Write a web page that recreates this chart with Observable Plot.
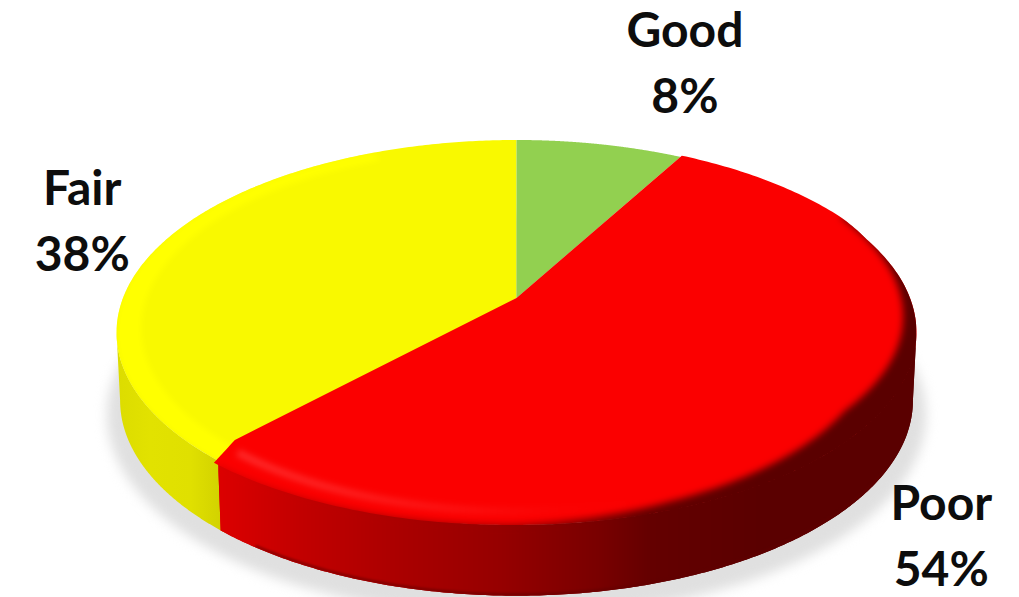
<!DOCTYPE html>
<html>
<head>
<meta charset="utf-8">
<style>
  html, body { margin: 0; padding: 0; background: #fff; }
  svg { display: block; }
  .on-disc { clip-path: url(#discClip); }
  .on-poor { clip-path: url(#poorClip); }
</style>
<script src="https://cdn.jsdelivr.net/npm/d3@7"></script>
<script src="https://cdn.jsdelivr.net/npm/@observablehq/plot@0.6"></script>
</head>
<body>
<div id="chart"></div>
<script>
// Share of ratings, clockwise from twelve o'clock
const categories = ["Good", "Poor", "Fair"];
const shares = [8, 54, 38];
const topColors = ["#92d050", "#fb0000", "#f9f900"];

// Perspective of the disc: its top face and the bottom face below it
const tilt = 0.179;
const centerX = 516;
const topFace = {k: 393.5, m: 186.3, y0: 297.5};
const bottomFace = {k: 390, m: 189, y0: 365};

// Label placement relative to the rim point at each slice's middle
const labelOffsets = {
  Good: [85, -113],
  Poor: [69, 84],
  Fair: [-91, -44]
};
const labelLeading = 66;

const project = (face, r, deg) => {
  const a = deg * Math.PI / 180;
  const u = r * Math.sin(a), v = r * Math.cos(a), w = 1 + tilt * v;
  return {x: centerX + face.k * u / w, y: face.y0 - face.m * v / w};
};
const sweep = (from, to) => d3.range(0, 241).map(i => from + (to - from) * i / 240);
const arc = (face, r, from, to) => sweep(from, to).map(d => project(face, typeof r === "function" ? r(d) : r, d));

// Slice boundaries in degrees, taken from the shares
let total = 0;
const slices = categories.map((name, i) => {
  const start = total * 3.6;
  total += shares[i];
  return {name, start, end: total * 3.6, mid: start + (total * 3.6 - start) / 2};
});
const [good, poor, fair] = slices;

// Angles at which the projected rim reaches its widest, right and left:
// the wall's silhouette runs straight down from these points
const widestRight = Math.acos(-tilt) * 180 / Math.PI;
const widestLeft = 360 - widestRight;

// The bevel pulls the poor slice's front corner in a little
const cornerInset = 2.2;
const poorRimEnd = poor.end - cornerInset;
const apex = project(topFace, 0, 0);

// Radius of the soft edge between top and wall: the lit left side rolls
// slightly past the rim, the shaded right side starts inside it
const shadeEdge = d3.scaleLinear([62, 80, 100, 126, 160, 180, 222], [1.01, 0.99, 0.965, 0.93, 0.97, 1, 1.012]).clamp(true);
const poorRim = d => Math.max(1, shadeEdge(d));

const roundedCorner = (() => {
  const a = project(topFace, poorRim(poorRimEnd), poorRimEnd);
  const c = project(topFace, 0.985, poorRimEnd + 0.6);
  const b = project(topFace, 0.92, poor.end);
  return d3.range(1, 13).map(i => {
    const t = i / 12, s = 1 - t;
    return {x: s * s * a.x + 2 * s * t * c.x + t * t * b.x, y: s * s * a.y + 2 * s * t * c.y + t * t * b.y};
  });
})();

const wedge = (from, to) => [apex, ...arc(topFace, 1, from, to), apex];
const wall = (from, to) => [...arc(topFace, 1, from, to), ...arc(bottomFace, 1, from, to).reverse()];
const band = (from, to, inner, outer = 1) => [...arc(topFace, outer, from, to), ...arc(topFace, inner, from, to).reverse()];

const yellowFrom = poorRimEnd - 1;
const poorTop = [apex, ...arc(topFace, poorRim, poor.start, poorRimEnd), ...roundedCorner, apex];
const poorWall = wall(widestRight, poorRimEnd);

// Horizontal shading of the side walls and the front bevel
const yellowWallStops = [[116, "#dcdc00"], [150, "#e2e200"], [190, "#e0e000"], [225, "#d0d000"]];
const redWallStops = [[218, "#dc0000"], [300, "#c20000"], [400, "#aa0000"], [500, "#960000"], [600, "#780000"], [650, "#640000"], [760, "#5a0000"], [1019, "#5a0000"]];
const highlightStops = [[218, "#ff3a3a", 0.8], [330, "#ff3030", 0.75], [450, "#ff2a2a", 0.45], [560, "#ff2020", 0.1], [640, "#ff2020", 0]];

const gradient = (id, stops) => `<linearGradient id="${id}" gradientUnits="userSpaceOnUse" x1="0" y1="0" x2="1019" y2="0">` +
  stops.map(([x, color, opacity = 1]) => `<stop offset="${x / 1019}" stop-color="${color}" stop-opacity="${opacity}"/>`).join("") +
  `</linearGradient>`;

const outline = d3.line().x(d => d.x).y(d => d.y);
const defs = () => {
  const node = document.createElementNS("http://www.w3.org/2000/svg", "defs");
  node.innerHTML = gradient("yellowWall", yellowWallStops) + gradient("redWall", redWallStops) + gradient("redHighlight", highlightStops) +
    `<clipPath id="discClip"><path d="${outline(arc(topFace, 1, 0, 360))}Z"/></clipPath>` +
    `<clipPath id="poorClip"><path d="${outline(poorTop)}Z"/><path d="${outline(poorWall)}Z"/></clipPath>`;
  return node;
};

const shape = (points, fill, extra = {}) => Plot.line(points, {x: "x", y: "y", fill, stroke: "none", ...extra});
const stroke = (points, color, strokeWidth, extra = {}) => Plot.line(points, {x: "x", y: "y", stroke: color, strokeWidth, strokeLinecap: "butt", ...extra});

const labels = slices.flatMap((s, i) => {
  const rim = project(topFace, 1, s.mid);
  const [dx, dy] = labelOffsets[s.name];
  return [
    {text: s.name, x: rim.x + dx, y: rim.y + dy},
    {text: `${shares[i]}%`, x: rim.x + dx, y: rim.y + dy + labelLeading}
  ];
});

const chart = Plot.plot({
  width: 1019,
  height: 597,
  margin: 0,
  x: {domain: [0, 1019], range: [0, 1019], axis: null},
  y: {domain: [0, 597], range: [0, 597], axis: null},
  marks: [
    defs,
    // Soft ground shadow under the disc
    shape(arc(bottomFace, 1.032, 0, 360).map(d => ({x: d.x, y: d.y + 12})), "#e0e0e0", {imageFilter: "blur(6px)"}),
    // Side walls
    shape(wall(yellowFrom, widestLeft), "url(#yellowWall)"),
    shape(poorWall, "url(#redWall)"),
    // Top faces
    shape(wedge(yellowFrom, fair.end), topColors[2]),
    shape(band(yellowFrom, 335, 0.94), "#ffff00", {imageFilter: "blur(3px)", className: "on-disc"}),
    shape(wedge(good.start, good.end), topColors[0]),
    shape(poorTop, topColors[1]),
    // Bevel where the top of the poor slice rolls into its wall
    shape(band(62, poorRimEnd - 1, 1.3, shadeEdge), "url(#redWall)", {imageFilter: "blur(3.5px)", className: "on-poor"}),
    // Darker lip along the wall's lower edge
    stroke(arc(bottomFace, 0.996, 120, poorRimEnd - 6), "#600000", 3, {imageFilter: "blur(1px)", strokeOpacity: 0.55, className: "on-poor"}),
    stroke(arc(topFace, 0.95, 128, poorRimEnd - 0.5), "url(#redHighlight)", 7, {imageFilter: "blur(3px)", className: "on-poor"}),
    // Name and percentage labels
    Plot.text(labels, {
      x: "x", y: "y", text: "text",
      fontFamily: "Lato, Carlito, Calibri, sans-serif",
      fontSize: 48, fontWeight: 700, fill: "#0d0d0d"
    })
  ]
});
document.getElementById("chart").append(chart);
</script>
</body>
</html>
